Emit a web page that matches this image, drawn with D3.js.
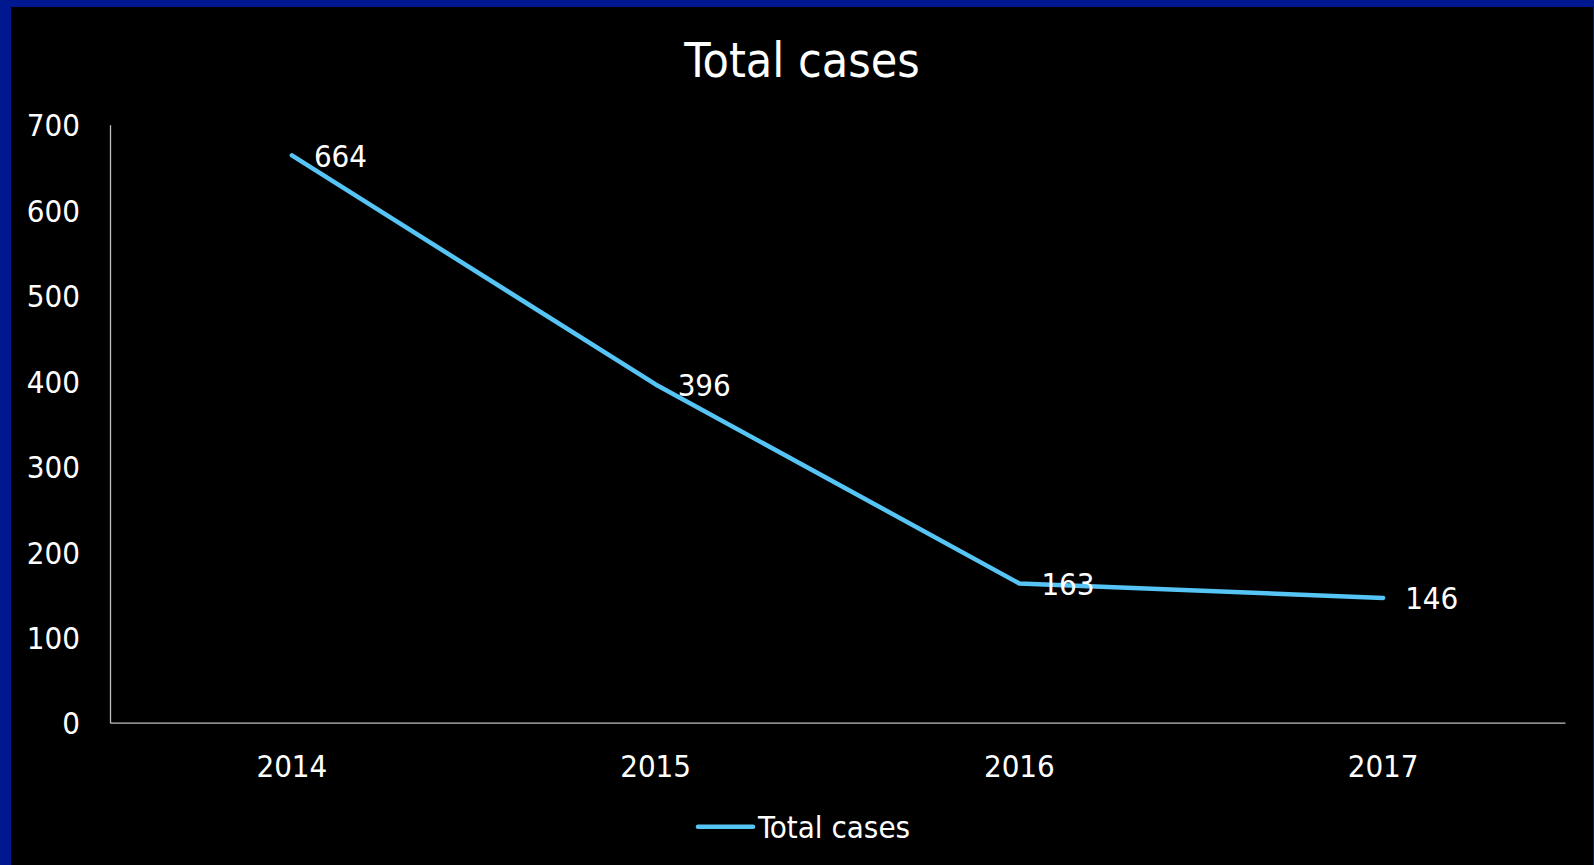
<!DOCTYPE html>
<html><head><meta charset="utf-8">
<script src="https://cdn.jsdelivr.net/npm/d3@7"></script>
<style>
html,body{margin:0;padding:0;background:#00188F;overflow:hidden;}
svg{display:block;}
text{font-family:"DejaVu Sans Condensed","DejaVu Sans",sans-serif;fill:#ffffff;}
</style></head>
<body>
<svg id="chart" width="1594" height="865"></svg>
<script>
const categories = ["2014", "2015", "2016", "2017"];
const values = [664, 396, 163, 146];
const yTicks = [0, 100, 200, 300, 400, 500, 600, 700];
const seriesName = "Total cases";
const titleText = "Total cases";

const W = 1594, H = 865;
const svg = d3.select("#chart");
// blue frame
svg.append("rect").attr("x",0).attr("y",0).attr("width",W).attr("height",H).attr("fill","#00188F");
// black chart area
svg.append("rect").attr("x",11).attr("y",7).attr("width",1582).attr("height",H-7).attr("fill","#000");

const plot = {left:110, right:1565, top:124.7, bottom:722.7};
const x = d3.scaleBand().domain(categories).range([plot.left, plot.right]).padding(0);
const y = d3.scaleLinear().domain([0,700]).range([plot.bottom, plot.top]);
const cx = d => x(d) + x.bandwidth()/2;

// title
svg.append("text").attr("x",802).attr("y",77).attr("text-anchor","middle")
  .style("font-size","48px").text(titleText);

// y axis
const yAxis = d3.axisLeft(y).tickValues(yTicks).tickSize(0).tickPadding(30);
const gy = svg.append("g").attr("transform",`translate(${plot.left},0)`).call(yAxis);
gy.select(".domain").attr("stroke","#BFBFBF").attr("stroke-width",1.3);
gy.selectAll("text").style("font-size","31px").attr("fill","#fff").attr("dy","0.36em");

// x axis
const xAxis = d3.axisBottom(x).tickSize(0).tickPadding(0);
const gx = svg.append("g").attr("transform",`translate(0,${plot.bottom})`).call(xAxis);
gx.select(".domain").attr("stroke","#BFBFBF").attr("stroke-width",1.3);
gx.selectAll("text").style("font-size","31px").attr("fill","#fff").attr("dy",null).attr("y",54);

// line
const data = categories.map((c,i)=>({c, v:values[i]}));
const line = d3.line().x(d=>cx(d.c)).y(d=>y(d.v));
svg.append("path").datum(data).attr("d",line).attr("fill","none")
  .attr("stroke","#56C5F5").attr("stroke-width",4.5).attr("stroke-linecap","round").attr("stroke-linejoin","round");

// data labels
svg.selectAll(".lbl").data(data).enter().append("text").attr("class","lbl")
  .attr("x",d=>cx(d.c)+22).attr("y",d=>y(d.v)).attr("dy","0.36em")
  .style("font-size","31px").text(d=>d.v);

// legend
svg.append("line").attr("x1",698).attr("x2",753).attr("y1",826.7).attr("y2",826.7)
  .attr("stroke","#56C5F5").attr("stroke-width",4.5).attr("stroke-linecap","round");
svg.append("text").attr("x",758).attr("y",838).style("font-size","31px").text(seriesName);
</script>
</body></html>
